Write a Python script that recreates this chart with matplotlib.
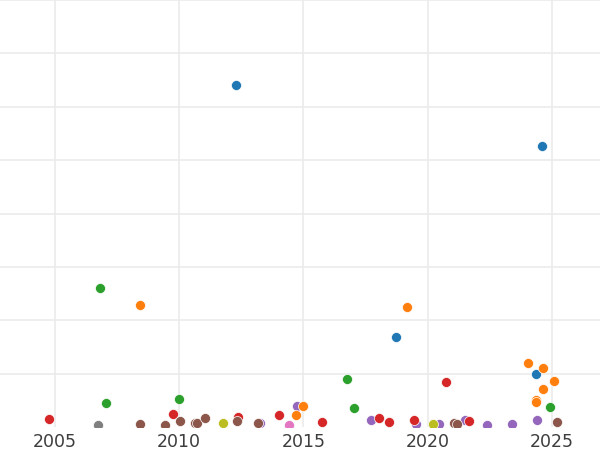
import numpy as np
import matplotlib
matplotlib.use("Agg")
import matplotlib.pyplot as plt

# values; y in grid-step units (no y labels shown)
blue_year = [2012.28, 2024.60, 2018.72, 2024.36]
blue_val = [6.40, 5.26, 1.69, 0.99]

orange_year = [2008.42, 2019.16, 2024.03, 2024.64, 2025.08, 2024.64, 2024.36, 2024.36, 2014.70, 2014.98]
orange_val = [2.28, 2.25, 1.20, 1.10, 0.86, 0.71, 0.51, 0.47, 0.22, 0.39]

green_year = [2006.81, 2016.75, 2017.03, 2007.05, 2009.99, 2024.92]
green_val = [2.60, 0.90, 0.36, 0.45, 0.52, 0.37]

red_year = [2004.76, 2009.75, 2012.36, 2014.01, 2015.74, 2018.04, 2018.44, 2019.45, 2020.73, 2021.66]
red_val = [0.15, 0.24, 0.19, 0.22, 0.09, 0.17, 0.09, 0.13, 0.84, 0.11]

purple_year = [2014.74, 2013.25, 2017.72, 2019.53, 2020.45, 2021.50, 2022.38, 2023.39, 2024.40]
purple_val = [0.39, 0.07, 0.13, 0.05, 0.05, 0.13, 0.04, 0.05, 0.13]

brown_year = [2008.42, 2009.43, 2010.03, 2010.63, 2010.71, 2011.04, 2012.32, 2013.17, 2021.06, 2021.18, 2025.20]
brown_val = [0.05, 0.03, 0.11, 0.07, 0.07, 0.17, 0.11, 0.07, 0.07, 0.05, 0.09]

pink_year = [2014.42]
pink_val = [0.04]

gray_year = [2006.73]
gray_val = [0.03]

olive_year = [2011.76, 2020.21]
olive_val = [0.07, 0.05]

series = [
    (purple_year, purple_val, "#9467bd"),
    (blue_year, blue_val, "#1f77b4"),
    (orange_year, orange_val, "#ff7f0e"),
    (green_year, green_val, "#2ca02c"),
    (red_year, red_val, "#d62728"),
    (brown_year, brown_val, "#8c564b"),
    (pink_year, pink_val, "#e377c2"),
    (gray_year, gray_val, "#7f7f7f"),
    (olive_year, olive_val, "#bcbd22"),
]

fig = plt.figure(figsize=(6, 4.5), dpi=100)
ax = fig.add_axes([0, 23 / 450, 1, 427 / 450])

for xs, ys, c in series:
    ax.scatter(xs, ys, s=52, color=c, edgecolors="white", linewidths=0.5, zorder=3)

ax.set_xlim(2002.79, 2026.93)
ax.set_ylim(0, 8)
ax.set_xticks([2005, 2010, 2015, 2020, 2025])
ax.set_yticks(np.arange(1, 9))
ax.tick_params(axis="x", length=0, pad=4, labelsize=12.5, labelcolor="#3d3d3d")
ax.tick_params(axis="y", length=0, labelleft=False)
ax.grid(True, color="#ebebeb", linewidth=1.2, zorder=0)
ax.set_axisbelow(True)
for s in ax.spines.values():
    s.set_visible(False)

fig.savefig("out.png", dpi=100)
